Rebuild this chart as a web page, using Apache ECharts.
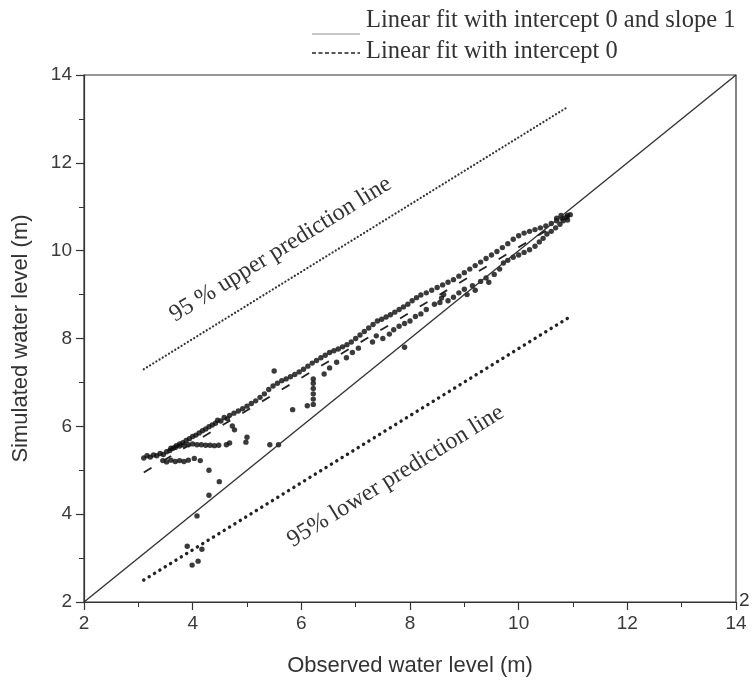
<!DOCTYPE html>
<html>
<head>
<meta charset="utf-8">
<script src="https://cdn.jsdelivr.net/npm/echarts@6/dist/echarts.min.js"></script>
<style>
  html, body { margin: 0; padding: 0; background: #fff; }
  #chart { width: 752px; height: 689px; }
</style>
</head>
<body>
<div id="chart"></div>
<script>
// Axis ticks (m)
const xTicks = [2, 4, 6, 8, 10, 12, 14];
const yTicks = [2, 4, 6, 8, 10, 12, 14];

// Upper band of simulated vs observed water levels [observed, simulated]
const upperBand = [
  [3.10, 5.28], [3.16, 5.33], [3.22, 5.30], [3.28, 5.35], [3.34, 5.33], [3.40, 5.38],
  [3.46, 5.36], [3.52, 5.42], [3.58, 5.45], [3.64, 5.50], [3.70, 5.56], [3.76, 5.60],
  [3.82, 5.63], [3.88, 5.68], [3.94, 5.72], [4.00, 5.77], [4.06, 5.80], [4.12, 5.85],
  [4.18, 5.90], [4.24, 5.94], [4.30, 5.99], [4.36, 6.03], [4.42, 6.07], [4.46, 6.14],
  [4.52, 6.12], [4.58, 6.20], [4.64, 6.17], [4.68, 6.25], [4.76, 6.30], [4.84, 6.35],
  [4.92, 6.40], [5.00, 6.46], [5.08, 6.52], [5.16, 6.58], [5.24, 6.66], [5.32, 6.74],
  [5.40, 6.84], [5.48, 6.92], [5.56, 6.98], [5.64, 7.04], [5.72, 7.08], [5.80, 7.13],
  [5.88, 7.18], [5.96, 7.24], [6.04, 7.30], [6.12, 7.37], [6.20, 7.44], [6.28, 7.50],
  [6.36, 7.56], [6.44, 7.62], [6.52, 7.68], [6.60, 7.72], [6.68, 7.76], [6.76, 7.81],
  [6.84, 7.86], [6.92, 7.92], [7.00, 8.00], [7.08, 8.08], [7.16, 8.16], [7.24, 8.24],
  [7.32, 8.32], [7.40, 8.40], [7.48, 8.44], [7.56, 8.49], [7.64, 8.54], [7.72, 8.60],
  [7.80, 8.66], [7.88, 8.72], [7.96, 8.78], [8.04, 8.86], [8.12, 8.93], [8.20, 8.99],
  [8.30, 9.04], [8.40, 9.10], [8.50, 9.16], [8.60, 9.22], [8.70, 9.28], [8.80, 9.34],
  [8.90, 9.42], [9.00, 9.50], [9.10, 9.58], [9.20, 9.66], [9.30, 9.74], [9.40, 9.82],
  [9.50, 9.90], [9.60, 9.98], [9.70, 10.07], [9.80, 10.16], [9.90, 10.26], [10.00, 10.34],
  [10.10, 10.40], [10.20, 10.44], [10.30, 10.48], [10.40, 10.52], [10.50, 10.56],
  [10.60, 10.62], [10.70, 10.68], [10.80, 10.74], [10.90, 10.80]
];

// Lower band [observed, simulated]
const lowerBand = [
  [3.45, 5.22], [3.52, 5.19], [3.60, 5.23], [3.68, 5.20], [3.76, 5.22], [3.84, 5.20],
  [3.92, 5.23], [4.03, 5.27], [4.14, 5.22],
  [3.60, 5.50], [3.68, 5.52], [3.76, 5.55], [3.84, 5.57], [3.92, 5.58], [4.00, 5.60],
  [4.08, 5.58], [4.16, 5.58], [4.24, 5.57], [4.32, 5.57], [4.40, 5.56], [4.48, 5.57],
  [4.62, 5.58], [4.68, 5.62], [4.98, 5.64], [5.00, 5.75], [4.73, 6.01], [4.77, 5.92],
  [5.42, 5.58], [5.58, 5.58],
  [5.84, 6.38], [6.11, 6.47],
  [6.22, 6.50], [6.22, 6.62], [6.22, 6.74], [6.22, 6.86], [6.22, 6.98], [6.22, 7.08],
  [6.42, 7.19], [6.52, 7.33], [6.65, 7.46], [6.83, 7.56], [6.94, 7.68], [7.05, 7.78],
  [7.31, 7.92], [7.38, 8.06], [7.50, 8.00], [7.62, 8.10], [7.70, 8.20], [7.80, 8.28],
  [7.90, 8.34], [8.00, 8.40], [8.10, 8.50], [8.20, 8.56], [8.30, 8.66], [8.45, 8.78],
  [8.55, 8.82], [8.58, 8.92], [8.62, 9.00], [8.70, 8.86], [8.80, 8.94], [8.90, 9.04],
  [9.00, 9.12], [9.05, 9.00], [9.15, 9.20], [9.20, 9.10], [9.30, 9.30], [9.40, 9.38],
  [9.45, 9.28], [9.55, 9.46], [9.65, 9.58], [9.72, 9.72], [9.80, 9.78], [9.90, 9.85],
  [10.00, 9.90], [10.10, 9.96], [10.20, 10.02], [10.30, 10.10], [10.38, 10.20],
  [10.45, 10.28], [10.52, 10.38], [10.60, 10.44], [10.68, 10.52], [10.76, 10.60],
  [10.82, 10.68], [10.70, 10.74], [10.88, 10.76], [10.95, 10.82], [10.90, 10.70],
  [10.78, 10.80]
];

// Scattered points away from the bands [observed, simulated]
const outliers = [
  [5.50, 7.26], [7.90, 7.80],
  [4.30, 5.00], [4.49, 4.74], [4.30, 4.43], [4.08, 3.96],
  [3.90, 3.27], [4.17, 3.20], [3.99, 2.84], [4.10, 2.93]
];

// Reference and fitted lines (endpoints in metres)
const oneToOneLine = [[2, 2], [14, 14]];
const fitLine = [[3.10, 4.95], [10.70, 10.60]];
const upperPrediction = [[3.10, 7.30], [10.90, 13.27]];
const lowerPrediction = [[3.10, 2.50], [10.90, 8.46]];

const chart = echarts.init(document.getElementById('chart'));

const sansFont = '"Liberation Sans", Arial, sans-serif';
const serifFont = '"Liberation Serif", "Times New Roman", serif';

const option = {
  animation: false,
  backgroundColor: '#fff',
  grid: {
    left: 84, right: 16, top: 75, bottom: 87,
    show: true, borderColor: '#333', borderWidth: 1.2
  },
  xAxis: {
    type: 'value', min: 2, max: 14, interval: 2,
    name: 'Observed water level (m)',
    nameLocation: 'middle', nameGap: 53,
    nameTextStyle: { fontFamily: sansFont, fontSize: 22, color: '#333' },
    axisLine: { show: true, lineStyle: { color: '#333', width: 1.2 } },
    axisTick: { show: true, length: 8, lineStyle: { color: '#333', width: 1.2 } },
    minorTick: { show: true, splitNumber: 2, length: 5, lineStyle: { color: '#333', width: 1 } },
    splitLine: { show: false },
    axisLabel: {
      fontFamily: sansFont, fontSize: 19, color: '#3a3a3a', margin: 12,
      formatter: v => (xTicks.includes(v) ? String(v) : '')
    }
  },
  yAxis: {
    type: 'value', min: 2, max: 14, interval: 2,
    name: 'Simulated water level (m)',
    nameLocation: 'middle', nameGap: 52, nameRotate: 90,
    nameTextStyle: { fontFamily: sansFont, fontSize: 22, color: '#333' },
    axisLine: { show: true, lineStyle: { color: '#333', width: 1.2 } },
    axisTick: { show: true, length: 8, lineStyle: { color: '#333', width: 1.2 } },
    minorTick: { show: true, splitNumber: 2, length: 5, lineStyle: { color: '#333', width: 1 } },
    splitLine: { show: false },
    axisLabel: {
      fontFamily: sansFont, fontSize: 19, color: '#3a3a3a', margin: 12,
      formatter: v => (yTicks.includes(v) ? String(v) : '')
    }
  },
  series: [
    {
      name: '1:1', type: 'line', data: oneToOneLine, symbol: 'none', silent: true,
      lineStyle: { color: '#333', width: 1.4 }
    },
    {
      name: 'fit', type: 'line', data: fitLine, symbol: 'none', silent: true,
      lineStyle: { color: '#222', width: 1.8, type: [9, 14] }
    },
    {
      name: 'upper prediction', type: 'line', data: upperPrediction, symbol: 'none', silent: true,
      lineStyle: { color: '#333', width: 2.2, type: [0.1, 3.6], cap: 'round' }
    },
    {
      name: 'lower prediction', type: 'line', data: lowerPrediction, symbol: 'none', silent: true,
      lineStyle: { color: '#222', width: 3.4, type: [0.1, 6.2], cap: 'round' }
    },
    {
      name: 'upper band', type: 'scatter', data: upperBand, symbol: 'circle', symbolSize: 5.4,
      itemStyle: { color: '#0a0a0a' }
    },
    {
      name: 'lower band', type: 'scatter', data: lowerBand, symbol: 'circle', symbolSize: 5.4,
      itemStyle: { color: '#0a0a0a' }
    },
    {
      name: 'outliers', type: 'scatter', data: outliers, symbol: 'circle', symbolSize: 5.4,
      itemStyle: { color: '#0a0a0a' }
    }
  ]
};

chart.setOption(option);

// Rotated labels placed along the prediction lines using the axis scales
function alongLine(line, t) {
  const a = line[0], b = line[1];
  return [a[0] + (b[0] - a[0]) * t, a[1] + (b[1] - a[1]) * t];
}
function lineAngle(line) {
  const p0 = chart.convertToPixel({ gridIndex: 0 }, line[0]);
  const p1 = chart.convertToPixel({ gridIndex: 0 }, line[1]);
  return Math.atan2(p0[1] - p1[1], p1[0] - p0[0]);
}
function offsetPoint(line, t, offsetPx) {
  const p = chart.convertToPixel({ gridIndex: 0 }, alongLine(line, t));
  const ang = lineAngle(line);
  // positive offset moves the label above the line, negative below it
  return [p[0] - Math.sin(ang) * offsetPx, p[1] - Math.cos(ang) * offsetPx];
}

const upAng = lineAngle(upperPrediction);
const loAng = lineAngle(lowerPrediction);
const upPos = offsetPoint(upperPrediction, 0.36, 30);
const loPos = offsetPoint(lowerPrediction, 0.54, -44);

chart.setOption({
  graphic: [
    // legend
    { type: 'line', shape: { x1: 312, y1: 34, x2: 360, y2: 34 },
      style: { stroke: '#b5b5b5', lineWidth: 1.5 } },
    { type: 'text', left: 366, top: 8,
      style: { text: 'Linear fit with intercept 0 and slope 1', font: '24.5px ' + serifFont, fill: '#333' } },
    { type: 'line', shape: { x1: 312, y1: 53, x2: 360, y2: 53 },
      style: { stroke: '#222', lineWidth: 1.3, lineDash: [4, 2.5] } },
    { type: 'text', left: 366, top: 39,
      style: { text: 'Linear fit with intercept 0', font: '24.5px ' + serifFont, fill: '#333' } },
    // prediction line labels
    { type: 'text', x: upPos[0], y: upPos[1], rotation: upAng,
      style: { text: '95 % upper prediction line', font: '24px ' + serifFont, fill: '#333',
               align: 'center', verticalAlign: 'middle' } },
    { type: 'text', x: loPos[0], y: loPos[1], rotation: loAng,
      style: { text: '95% lower prediction line', font: '24px ' + serifFont, fill: '#333',
               align: 'center', verticalAlign: 'middle' } },
    // stray label at the right axis foot
    { type: 'text', left: 739, top: 591,
      style: { text: '2', font: '19px ' + sansFont, fill: '#333' } }
  ]
});
</script>
</body>
</html>
